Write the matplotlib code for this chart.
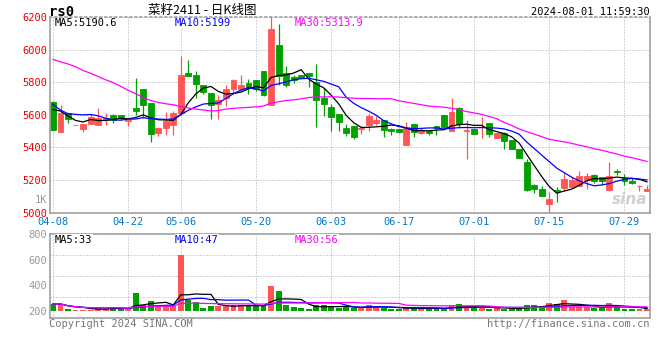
import numpy as np
import pandas as pd
import matplotlib
matplotlib.use("Agg")
import matplotlib.pyplot as plt

# 菜籽2411 日K  2024-04-08 .. 2024-08-01
opens = [5680, 5495, 5611, 5535, 5513, 5544, 5538, 5570, 5597, 5597,
         5562, 5644, 5756, 5670, 5489, 5517, 5536, 5609, 5859, 5847,
         5780, 5735, 5664, 5701, 5756, 5756, 5796, 5811, 5866, 5658,
         6031, 5857, 5831, 5847, 5857, 5800, 5701, 5648, 5603, 5517,
         5530, 5513, 5536, 5548, 5570, 5511, 5511, 5415, 5542, 5489,
         5501, 5534, 5597, 5501, 5644, 5500, 5515, 5523, 5548, 5460,
         5491, 5446, 5389, 5311, 5167, 5147, 5053, 5140, 5151, 5155,
         5165, 5202, 5230, 5218, 5140, 5254, 5210, 5196, 5161, 5130]
highs = [5685, 5660, 5611, 5540, 5544, 5603, 5643, 5613, 5603, 5600,
         5572, 5827, 5756, 5670, 5525, 5615, 5623, 5959, 5939, 5868,
         5780, 5735, 5719, 5786, 5821, 5847, 5817, 5811, 5866, 6230,
         6157, 5902, 5847, 5847, 5857, 5914, 5762, 5664, 5603, 5542,
         5530, 5530, 5613, 5593, 5570, 5521, 5515, 5558, 5542, 5517,
         5501, 5534, 5597, 5701, 5648, 5566, 5515, 5584, 5548, 5497,
         5495, 5446, 5389, 5332, 5179, 5163, 5124, 5155, 5246, 5216,
         5257, 5246, 5236, 5218, 5308, 5267, 5240, 5210, 5171, 5167]
lows = [5505, 5495, 5550, 5535, 5495, 5544, 5538, 5540, 5550, 5570,
        5532, 5600, 5582, 5434, 5470, 5474, 5476, 5600, 5837, 5705,
        5725, 5572, 5572, 5654, 5725, 5745, 5725, 5745, 5715, 5658,
        5786, 5770, 5796, 5823, 5770, 5525, 5593, 5501, 5501, 5470,
        5454, 5481, 5501, 5536, 5464, 5476, 5491, 5415, 5464, 5481,
        5476, 5476, 5521, 5501, 5521, 5328, 5485, 5456, 5464, 5456,
        5389, 5389, 5334, 5134, 5118, 5102, 4990, 5067, 5134, 5151,
        5165, 5145, 5185, 5171, 5134, 5232, 5171, 5175, 5134, 5130]
closes = [5510, 5611, 5576, 5540, 5544, 5587, 5578, 5580, 5570, 5578,
          5570, 5621, 5660, 5480, 5519, 5562, 5609, 5843, 5837, 5792,
          5739, 5660, 5688, 5756, 5813, 5780, 5762, 5756, 5719, 6128,
          5841, 5780, 5813, 5823, 5841, 5688, 5664, 5587, 5556, 5487,
          5464, 5519, 5593, 5570, 5507, 5499, 5497, 5517, 5497, 5509,
          5489, 5521, 5527, 5615, 5546, 5505, 5485, 5527, 5485, 5487,
          5440, 5389, 5334, 5138, 5145, 5102, 5083, 5130, 5206, 5202,
          5222, 5222, 5196, 5196, 5228, 5250, 5196, 5185, 5165, 5147]
# closes before 04-08 (only feed the MA5 / MA10 start)
prev_closes = [5961, 5796, 5580, 5574, 5564, 5661, 5726, 5675, 5593]
# MA30
ma30 = [5940, 5925, 5912, 5895, 5872, 5855, 5835, 5815, 5798, 5775,
        5750, 5730, 5705, 5688, 5676, 5668, 5662, 5650, 5642, 5635,
        5630, 5624, 5626, 5635, 5640, 5643, 5646, 5649, 5654, 5672,
        5680, 5688, 5692, 5698, 5706, 5710, 5710, 5711, 5709, 5705,
        5702, 5700, 5700, 5699, 5699, 5699, 5686, 5678, 5670, 5662,
        5654, 5650, 5647, 5640, 5633, 5620, 5612, 5603, 5590, 5577,
        5553, 5535, 5513, 5497, 5482, 5466, 5450, 5442, 5434, 5425,
        5414, 5404, 5392, 5383, 5371, 5360, 5346, 5337, 5326, 5314]
volumes = [255, 255, 213, 210, 210, 210, 229, 218, 229, 213,
           213, 340, 244, 278, 239, 239, 239, 634, 283, 270,
           224, 239, 239, 239, 244, 244, 242, 239, 239, 395,
           353, 249, 229, 224, 218, 249, 249, 231, 224, 229,
           224, 229, 249, 229, 224, 218, 218, 224, 224, 218,
           218, 224, 218, 247, 255, 224, 239, 224, 218, 224,
           218, 218, 218, 247, 247, 239, 262, 255, 286, 229,
           229, 229, 224, 224, 262, 229, 218, 218, 218, 213]
vol_floor = 200
date_pos = [0, 10, 17, 27, 37, 46, 56, 66, 76]
date_labels = ["04-08", "04-22", "05-06", "05-20", "06-03", "06-17", "07-01", "07-15", "07-29"]
price_ticks = [5000, 5200, 5400, 5600, 5800, 6000, 6200]
vol_ticks = [200, 400, 600, 800]

RED = "#FF5555"
GREEN = "#00A000"
GRID = "#AAAAAA"
MONO = "DejaVu Sans Mono"
plt.rcParams["font.family"] = [MONO, "Noto Sans CJK SC"]

df = pd.DataFrame({"o": opens, "h": highs, "l": lows, "c": closes, "v": volumes})
x = np.arange(len(df))
allc = pd.Series(prev_closes + closes)
ma5 = allc.rolling(5).mean().iloc[len(prev_closes):].values
ma10 = allc.rolling(10).mean().iloc[len(prev_closes):].values
up = df.c >= df.o
cols = np.where(up, RED, GREEN)

fig = plt.figure(figsize=(6.6, 3.6), dpi=100)
W, H = 660, 360
ax = fig.add_axes([50 / W, 1 - 212.7 / H, 600 / W, (212.7 - 17) / H])
av = fig.add_axes([50 / W, 1 - 317.7 / H, 600 / W, (317.7 - 234) / H])

for a in (ax, av):
    a.set_xlim(-0.4, 79.4)
    for s in a.spines.values():
        s.set_color("#A0A0A0")
        s.set_linewidth(1.2)
    a.set_xticks(date_pos)
    a.grid(True, axis="x", color=GRID, lw=0.72, ls=(0, (1, 2)))
    a.tick_params(length=0, pad=2)
    a.set_axisbelow(True)
ax.spines["top"].set_linestyle((0, (1, 2)))

# candles
ax.vlines(x, df.l, df.h, colors=cols, lw=0.9)
ax.bar(x, (df.c - df.o).abs(), bottom=np.minimum(df.o, df.c), width=0.78,
       color=cols, edgecolor=cols, lw=0.6)
ax.plot(x, ma5, color="black", lw=0.9)
ax.plot(x, ma10, color="#0000FF", lw=0.9)
ax.plot(x, ma30, color="#FF00FF", lw=0.9)
ax.set_ylim(5000, 6200)
ax.set_yticks(price_ticks)
ax.set_yticklabels([str(t) for t in price_ticks], color="#EE0000", fontsize=7.5)
ax.grid(True, axis="y", color=GRID, lw=0.72, ls=(0, (1, 2)))
ax.set_xticklabels(date_labels, color="#0077CC", fontsize=7.5)
ax.tick_params(axis="x", pad=3)

lab = dict(fontsize=7.5, va="top", ha="left",
           bbox=dict(fc="white", ec="none", pad=0.3))
ax.text(5 / 600, 0.995, "MA5:5190.6", color="black", transform=ax.transAxes, **lab)
ax.text(125 / 600, 0.995, "MA10:5199", color="#0000FF", transform=ax.transAxes, **lab)
ax.text(245 / 600, 0.995, "MA30:5313.9", color="#FF00FF", transform=ax.transAxes, **lab)
ax.text(0.995, 0.03, "sina", color="#D0D0D0", fontsize=11, style="italic",
        weight="bold", ha="right", va="bottom", family="DejaVu Sans",
        transform=ax.transAxes)

# volume
vma5 = df.v.rolling(5, min_periods=1).mean()
vma10 = df.v.rolling(10, min_periods=1).mean()
vma30 = df.v.rolling(30, min_periods=1).mean()
av.bar(x, df.v - vol_floor, bottom=vol_floor, width=0.78, color=cols)
av.plot(x, vma5, color="black", lw=0.9)
av.plot(x, vma10, color="#0000FF", lw=0.9)
av.plot(x, vma30, color="#FF00FF", lw=0.9)
av.set_ylim(148, 800)
av.set_yticks(vol_ticks)
av.set_yticklabels([str(t) for t in vol_ticks], color="#999999", fontsize=7.5)
av.set_yticks(np.linspace(148, 800, 5)[1:-1], minor=True)
av.tick_params(which="minor", length=0)
av.grid(True, axis="y", which="minor", color=GRID, lw=0.72, ls=(0, (1, 2)))
av.set_xticklabels([])
av.text(5 / 600, 0.99, "MA5:33", color="black", transform=av.transAxes, **lab)
av.text(125 / 600, 0.99, "MA10:47", color="#0000FF", transform=av.transAxes, **lab)
av.text(245 / 600, 0.99, "MA30:56", color="#FF00FF", transform=av.transAxes, **lab)

# header / footer
fig.text(49 / W, 1 - 12 / H, "rs0", fontsize=10, weight="bold", va="center")
fig.text(202 / W, 1 - 10 / H, "菜籽2411 - 日K线图", fontsize=9, va="center",
         ha="center", family=["Noto Sans CJK SC", MONO])
fig.text(650 / W, 1 - 12 / H, "2024-08-01 11:59:30", fontsize=7.5, va="center", ha="right")
fig.text(47 / W, 1 - 200 / H, "1K", fontsize=7.5, va="center", ha="right", color="#999999")
fig.text(49 / W, 1 - 324 / H, "Copyright 2024 SINA.COM", fontsize=7.5, va="center", color="#777777")
fig.text(650 / W, 1 - 324 / H, "http://finance.sina.com.cn", fontsize=7.5, va="center",
         ha="right", color="#777777")

fig.savefig("out.png", dpi=100)
